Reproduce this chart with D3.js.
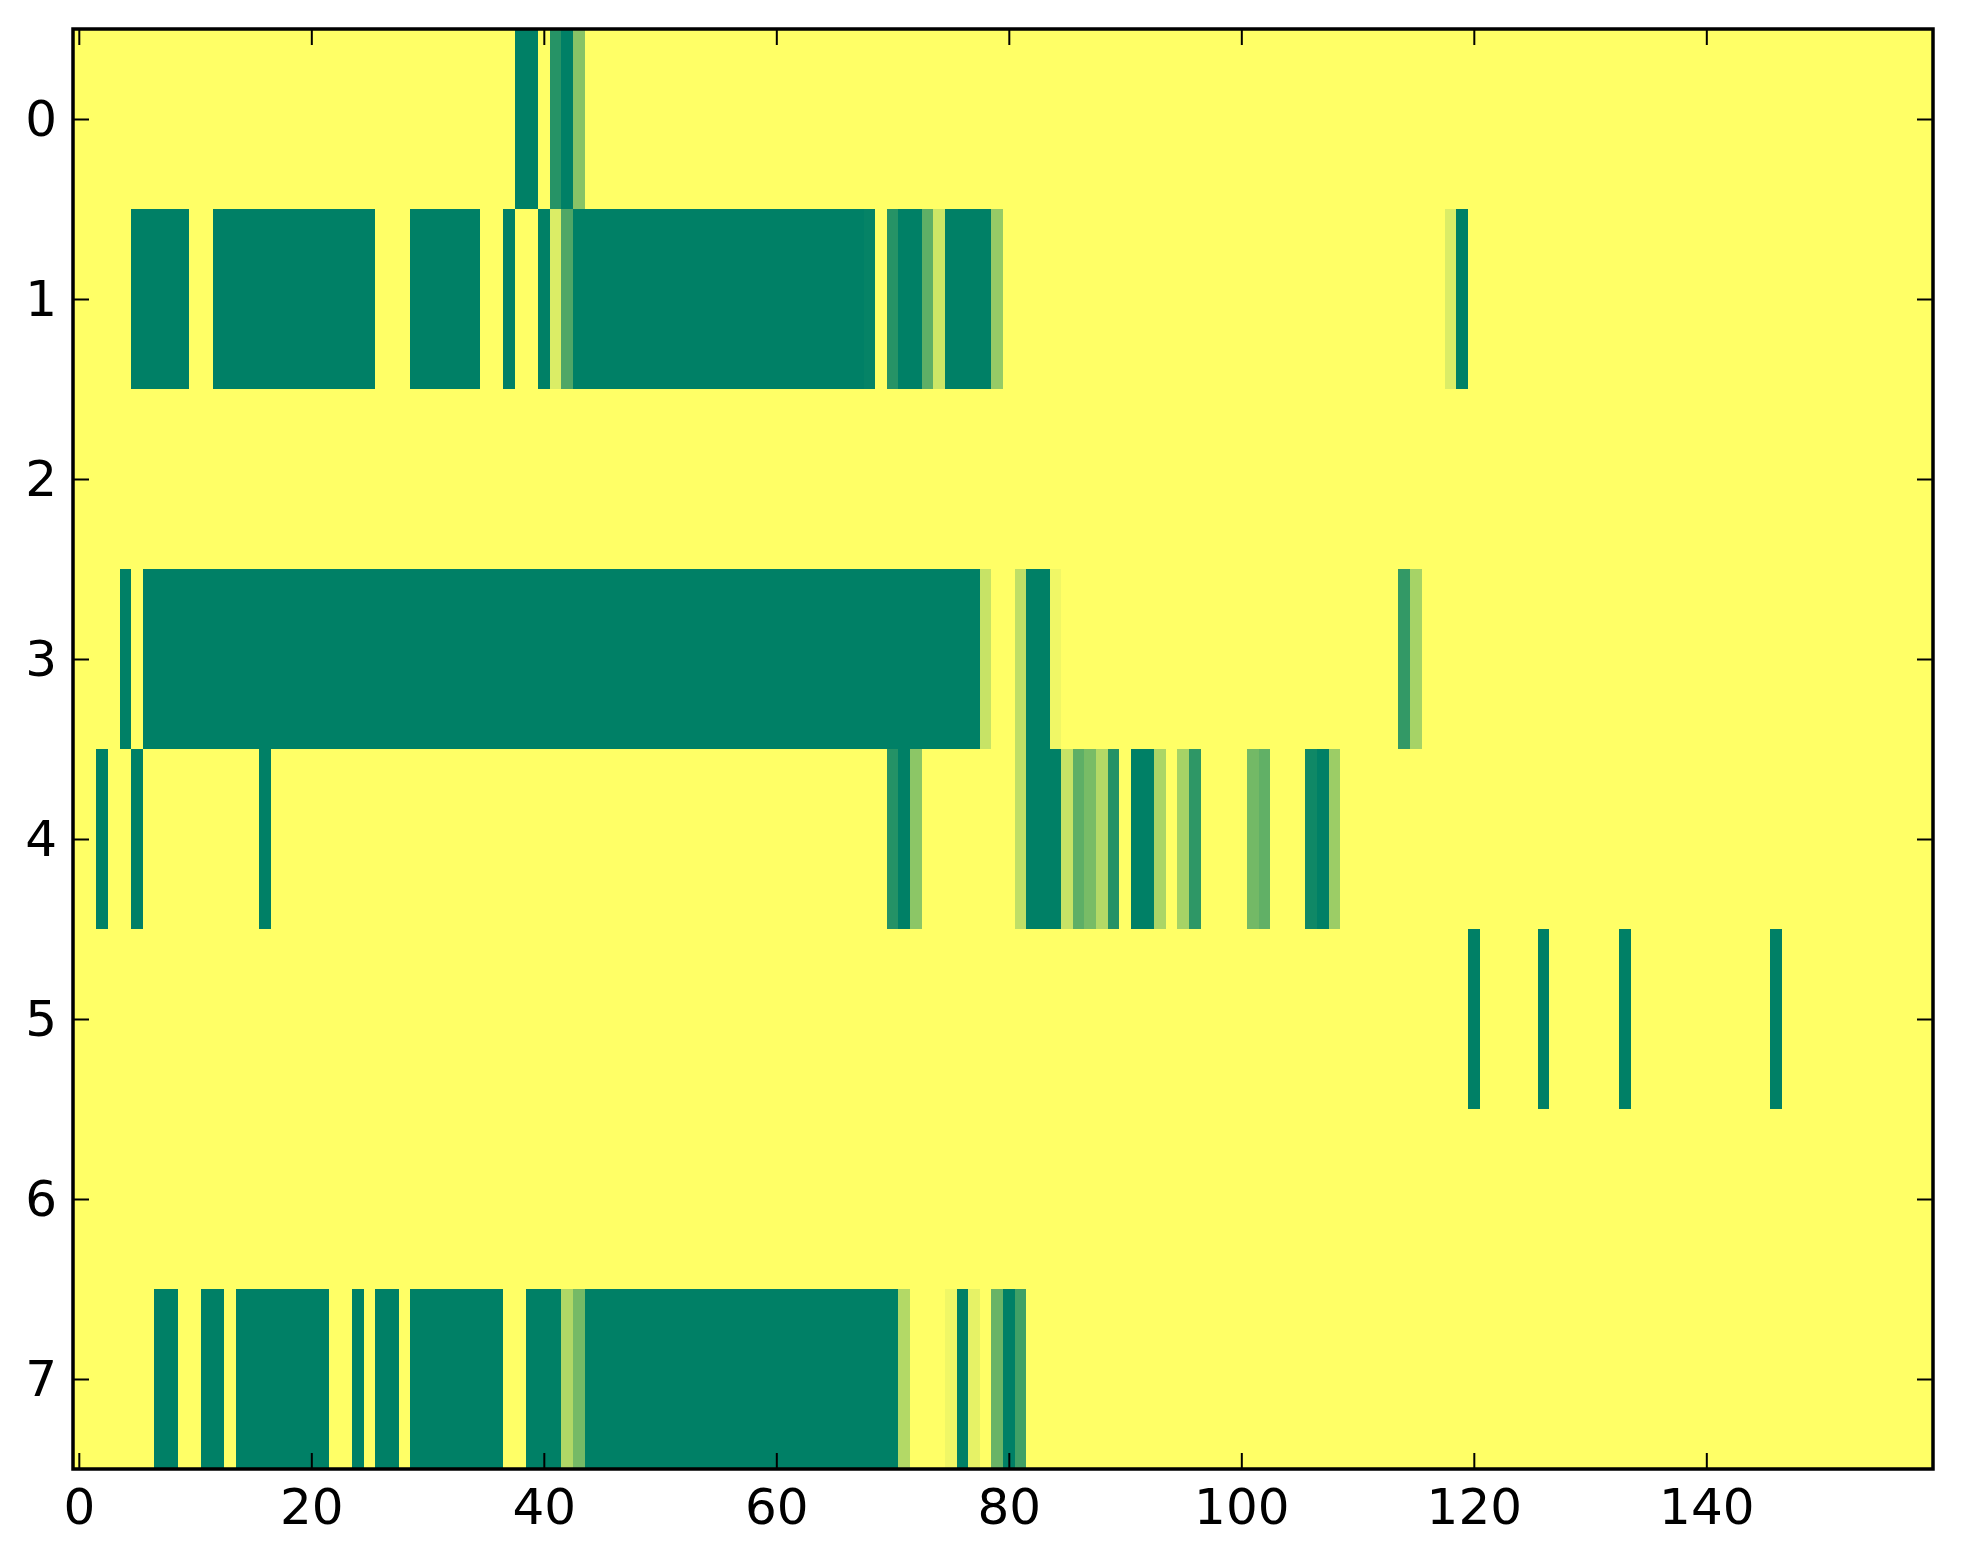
<!DOCTYPE html>
<html>
<head>
<meta charset="utf-8">
<script src="https://cdn.jsdelivr.net/npm/d3@7"></script>
<style>
  html, body { margin: 0; padding: 0; background: #ffffff; }
  svg { display: block; }
</style>
</head>
<body>
<script>
// ---- data: runs of [firstColumn, lastColumn, value] per row; unlisted cells are 1 ----
const nCols = 160;
const rowLabels = [0, 1, 2, 3, 4, 5, 6, 7];
const xTickValues = [0, 20, 40, 60, 80, 100, 120, 140];

const row0 = [[38,39,0],[41,41,0.15],[42,42,0],[43,43,0.53]];
const row1 = [[5,9,0],[12,25,0],[29,34,0],[37,37,0],[40,40,0],[41,41,0.86],[42,42,0.31],
              [43,67,0],[68,68,0.02],[70,70,0.15],[71,72,0],[73,73,0.37],[74,74,0.8],
              [75,78,0],[79,79,0.59],[118,118,0.86],[119,119,0]];
const row2 = [];
const row3 = [[4,4,0],[6,77,0],[78,78,0.78],[81,81,0.75],[82,83,0],[84,84,0.94],
              [114,114,0.2],[115,115,0.65]];
const row4 = [[2,2,0],[5,5,0],[16,16,0],[70,70,0.14],[71,71,0],[72,72,0.55],[81,81,0.75],
              [82,84,0],[85,85,0.78],[86,86,0.37],[87,87,0.47],[88,88,0.7],[89,89,0.14],
              [91,92,0],[93,93,0.67],[95,95,0.65],[96,96,0.18],[101,101,0.45],[102,102,0.38],
              [106,106,0.06],[107,107,0],[108,108,0.61]];
const row5 = [[120,120,0],[126,126,0],[133,133,0],[146,146,0]];
const row6 = [];
const row7 = [[7,8,0],[11,12,0],[14,21,0],[24,24,0],[26,27,0],[29,36,0],[39,41,0],
              [42,42,0.69],[43,43,0.46],[44,70,0],[71,71,0.7],[75,75,0.94],[76,76,0],
              [77,77,0.9],[79,79,0.41],[80,80,0],[81,81,0.25]];
const rowRuns = [row0, row1, row2, row3, row4, row5, row6, row7];

// build the matrix (background value 1)
const cells = [];
rowRuns.forEach((runs, r) => {
  const vals = new Array(nCols).fill(1);
  runs.forEach(([a, b, v]) => { for (let c = a; c <= b; c++) vals[c] = v; });
  vals.forEach((v, c) => cells.push({ r, c, v }));
});

// ---- layout ----
const W = 1963, H = 1564;
const pLeft = 73, pRight = 1933, pTop = 29, pBottom = 1469;

const svg = d3.select("body").append("svg").attr("width", W).attr("height", H);

const x = d3.scaleLinear().domain([-0.5, nCols - 0.5]).range([pLeft, pRight]);
const y = d3.scaleLinear().domain([-0.5, rowLabels.length - 0.5]).range([pTop, pBottom]);
// matplotlib "summer" colormap
const color = d3.scaleLinear().domain([0, 1]).range(["rgb(0,128,102)", "rgb(255,255,102)"]);

svg.append("g")
  .attr("shape-rendering", "crispEdges")
  .selectAll("rect").data(cells).join("rect")
  .attr("x", d => x(d.c - 0.5))
  .attr("y", d => y(d.r - 0.5))
  .attr("width", d => x(d.c + 0.5) - x(d.c - 0.5) + 0.6)
  .attr("height", d => y(d.r + 0.5) - y(d.r - 0.5) + 0.6)
  .attr("fill", d => color(d.v));

// ---- axes (ticks inward on all sides, matplotlib classic style) ----
const tickLen = 16, fontSize = 50, font = "DejaVu Sans";

function styleAxis(g) {
  g.select(".domain").remove();
  g.selectAll(".tick line").attr("stroke", "#000").attr("stroke-width", 2);
  g.selectAll(".tick text").attr("font-family", font).attr("font-size", fontSize).attr("fill", "#000");
}

svg.append("g").attr("transform", `translate(0,${pBottom})`)
  .call(d3.axisBottom(x).tickValues(xTickValues).tickFormat(d3.format("d"))
        .tickSizeInner(-tickLen).tickPadding(19))
  .call(styleAxis);

svg.append("g").attr("transform", `translate(0,${pTop})`)
  .call(d3.axisTop(x).tickValues(xTickValues).tickFormat("").tickSizeInner(-tickLen))
  .call(styleAxis);

svg.append("g").attr("transform", `translate(${pLeft},0)`)
  .call(d3.axisLeft(y).tickValues(rowLabels).tickFormat(d3.format("d"))
        .tickSizeInner(-tickLen).tickPadding(16))
  .call(styleAxis);

svg.append("g").attr("transform", `translate(${pRight},0)`)
  .call(d3.axisRight(y).tickValues(rowLabels).tickFormat("").tickSizeInner(-tickLen))
  .call(styleAxis);

// frame
svg.append("rect")
  .attr("x", pLeft).attr("y", pTop)
  .attr("width", pRight - pLeft).attr("height", pBottom - pTop)
  .attr("fill", "none").attr("stroke", "#000").attr("stroke-width", 3.5);
</script>
</body>
</html>
